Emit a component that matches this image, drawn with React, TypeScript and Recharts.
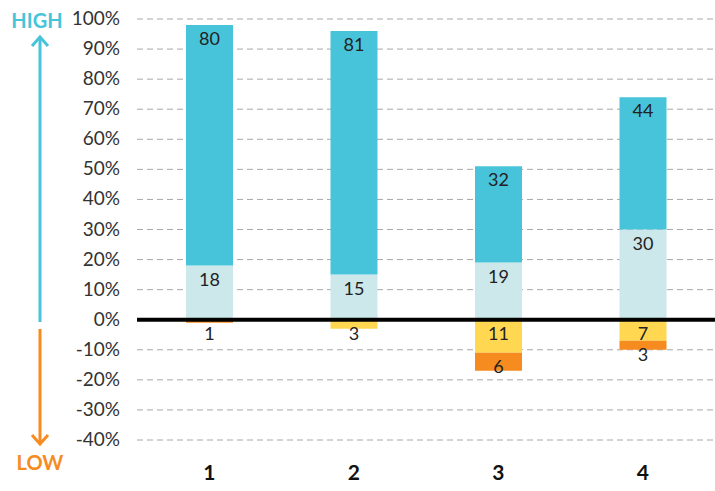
import React from 'react';
import { Bar, BarChart, CartesianGrid, LabelList, ReferenceLine, XAxis, YAxis } from 'recharts';

const groups = ['1', '2', '3', '4'];
const highLight = [18, 15, 19, 30];
const highDark = [80, 81, 32, 44];
const lowYellow = [0, -3, -11, -7];
const lowOrange = [-1, 0, -6, -3];
const yTicks = [-40, -30, -20, -10, 0, 10, 20, 30, 40, 50, 60, 70, 80, 90, 100];

const TEAL = '#48C4DA';
const LIGHT = '#CDE8EA';
const YELLOW = '#FFD751';
const ORANGE = '#F68B1F';
const FONT = 'Lato, "Open Sans", sans-serif';

const data = groups.map((g, i) => ({
  name: g,
  light: highLight[i],
  dark: highDark[i],
  yellow: lowYellow[i],
  orange: lowOrange[i],
}));

function SegLabel(props: any) {
  const { x, y, width, height, value } = props;
  if (!value) return null;
  const top = Math.min(Number(y), Number(y) + Number(height));
  return (
    <text x={Number(x) + Number(width) / 2} y={top + 20} textAnchor="middle" fontSize={18} fill="#222" fontFamily={FONT}>
      {Math.abs(value)}
    </text>
  );
}

function YTick({ x, y, payload }: any) {
  return (
    <text x={x} y={y} dy={6} textAnchor="end" fontSize={19} fill="#333" fontFamily={FONT}>
      {payload.value}%
    </text>
  );
}

function XTick({ x, y, payload }: any) {
  return (
    <text x={x} y={y + 32} textAnchor="middle" fontSize={21} fontWeight={700} fill="#111" fontFamily={FONT}>
      {payload.value}
    </text>
  );
}

export default function App() {
  return (
    <div style={{ position: 'absolute', left: 0, top: 0, width: 715, height: 491, background: '#fff' }}>
      <BarChart
        width={715}
        height={491}
        data={data}
        stackOffset="sign"
        margin={{ top: 19, right: 0, bottom: 0, left: 0 }}
      >
        <CartesianGrid vertical={false} stroke="#a8a8a8" strokeDasharray="6 4" />
        <XAxis dataKey="name" axisLine={false} tickLine={false} height={51} tick={<XTick />} />
        <YAxis
          type="number"
          domain={[-40, 100]}
          ticks={yTicks}
          interval={0}
          width={137}
          axisLine={false}
          tickLine={false}
          tickSize={0}
          tickMargin={17}
          tick={<YTick />}
        />
        <Bar dataKey="light" stackId="s" fill={LIGHT} barSize={47} isAnimationActive={false}>
          <LabelList dataKey="light" content={<SegLabel />} />
        </Bar>
        <Bar dataKey="dark" stackId="s" fill={TEAL} barSize={47} isAnimationActive={false}>
          <LabelList dataKey="dark" content={<SegLabel />} />
        </Bar>
        <Bar dataKey="yellow" stackId="s" fill={YELLOW} barSize={47} isAnimationActive={false}>
          <LabelList dataKey="yellow" content={<SegLabel />} />
        </Bar>
        <Bar dataKey="orange" stackId="s" fill={ORANGE} barSize={47} isAnimationActive={false}>
          <LabelList dataKey="orange" content={<SegLabel />} />
        </Bar>
        <ReferenceLine y={0} stroke="#000" strokeWidth={4} />
      </BarChart>
      <svg width={715} height={491} style={{ position: 'absolute', left: 0, top: 0, pointerEvents: 'none' }}>
        <text x={37} y={28} textAnchor="middle" fontSize={20} fontWeight={700} fill={TEAL} fontFamily={FONT}>
          HIGH
        </text>
        <line x1={40} y1={37} x2={40} y2={322} stroke={TEAL} strokeWidth={3} />
        <polyline points="32,46 40,37 48,46" fill="none" stroke={TEAL} strokeWidth={3} />
        <line x1={40} y1={329} x2={40} y2={444} stroke={ORANGE} strokeWidth={3} />
        <polyline points="32,435 40,444 48,435" fill="none" stroke={ORANGE} strokeWidth={3} />
        <text x={40} y={470} textAnchor="middle" fontSize={20} fontWeight={700} fill={ORANGE} fontFamily={FONT}>
          LOW
        </text>
      </svg>
    </div>
  );
}
